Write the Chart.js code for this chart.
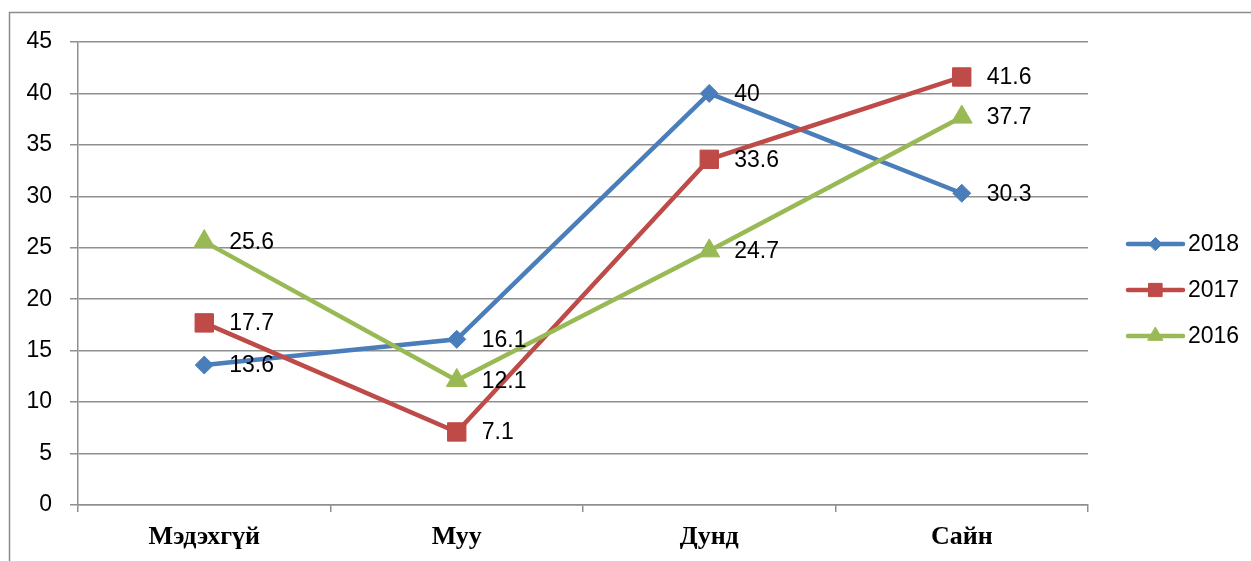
<!DOCTYPE html>
<html>
<head>
<meta charset="utf-8">
<script src="https://cdn.jsdelivr.net/npm/chart.js@4"></script>
<style>
  html, body { margin: 0; padding: 0; background: #fff; }
  #wrap { position: relative; width: 1251px; height: 561px; }
</style>
</head>
<body>
<div id="wrap"><canvas id="c" width="1251" height="561"></canvas></div>
<script>
const categories = ['Мэдэхгүй', 'Муу', 'Дунд', 'Сайн'];
const seriesNames = ['2018', '2017', '2016'];
const values2018 = [13.6, 16.1, 40, 30.3];
const values2017 = [17.7, 7.1, 33.6, 41.6];
const values2016 = [25.6, 12.1, 24.7, 37.7];

const colors = ['#4a7ebb', '#be4b48', '#98b954'];
const styles = ['rectRot', 'rect', 'triangle'];
const radii = [9, 13, 12];

const gridColor = '#8f8f8f';
const labelFont = '23px "Liberation Sans", Arial, sans-serif';

// outer frame of the chart
const framePlugin = {
    id: 'frame',
    beforeDraw: (chart) => {
        const ctx = chart.ctx;
        ctx.save();
        ctx.strokeStyle = '#8c8c8c';
        ctx.lineWidth = 1.5;
        ctx.strokeRect(9.5, 12.5, 1400, 700);
        ctx.restore();
    }
};

// value labels to the right of each point
const valueLabels = {
    id: 'valueLabels',
    afterDatasetsDraw: (chart) => {
        const ctx = chart.ctx;
        ctx.save();
        ctx.font = labelFont;
        ctx.fillStyle = '#000';
        ctx.textAlign = 'left';
        ctx.textBaseline = 'middle';
        chart.data.datasets.forEach((ds, i) => {
            chart.getDatasetMeta(i).data.forEach((pt, j) => {
                ctx.fillText(String(ds.data[j]), pt.x + 25, pt.y + 1);
            });
        });
        ctx.restore();
    }
};

// legend: line with marker, like the spreadsheet one
const lineLegend = {
    id: 'lineLegend',
    afterDraw: (chart) => {
        const ctx = chart.ctx;
        const x0 = 1128, x1 = 1183, top = 244, step = 46;
        ctx.save();
        chart.data.datasets.forEach((ds, i) => {
            const y = top + i * step;
            ctx.strokeStyle = ds.borderColor;
            ctx.lineWidth = 4.5;
            ctx.lineCap = 'round';
            ctx.beginPath();
            ctx.moveTo(x0, y);
            ctx.lineTo(x1, y);
            ctx.stroke();
            ctx.fillStyle = ds.backgroundColor;
            ctx.lineWidth = 1;
            Chart.helpers.drawPoint(ctx, { pointStyle: ds.pointStyle, radius: ds.pointRadius * 0.72, borderWidth: 1 }, (x0 + x1) / 2, y);
            ctx.fillStyle = '#000';
            ctx.font = labelFont;
            ctx.textAlign = 'left';
            ctx.textBaseline = 'middle';
            ctx.fillText(ds.label, 1188, y + 1);
        });
        ctx.restore();
    }
};

const allValues = [values2018, values2017, values2016];

new Chart(document.getElementById('c'), {
    type: 'line',
    data: {
        labels: categories,
        datasets: allValues.map((vals, i) => ({
            label: seriesNames[i],
            data: vals,
            borderColor: colors[i],
            backgroundColor: colors[i],
            pointBackgroundColor: colors[i],
            pointBorderColor: colors[i],
            pointStyle: styles[i],
            pointRadius: radii[i],
            pointBorderWidth: 1,
            borderWidth: 4.5,
            tension: 0,
            order: 3 - i
        }))
    },
    options: {
        responsive: false,
        animation: false,
        events: [],
        layout: { padding: { left: 0, right: 163, top: 42, bottom: 0 } },
        plugins: { legend: { display: false }, tooltip: { enabled: false } },
        scales: {
            x: {
                offset: true,
                grid: { display: true, offset: true, drawOnChartArea: false, drawTicks: true, tickLength: 7, color: gridColor, lineWidth: 1.5 },
                border: { display: true, color: gridColor, width: 1.5 },
                ticks: {
                    color: '#000',
                    padding: 10,
                    font: { family: '"Liberation Serif", "Times New Roman", serif', size: 26, weight: 'bold' }
                },
                afterFit: (s) => { s.height = 56; }
            },
            y: {
                min: 0,
                max: 45,
                ticks: {
                    stepSize: 5,
                    color: '#000',
                    padding: 18,
                    font: { family: '"Liberation Sans", Arial, sans-serif', size: 23 }
                },
                grid: { color: gridColor, lineWidth: 1.5, tickLength: 8 },
                border: { display: true, color: gridColor, width: 1.5 },
                afterFit: (s) => { s.width = 78; }
            }
        }
    },
    plugins: [framePlugin, valueLabels, lineLegend]
});
</script>
</body>
</html>
